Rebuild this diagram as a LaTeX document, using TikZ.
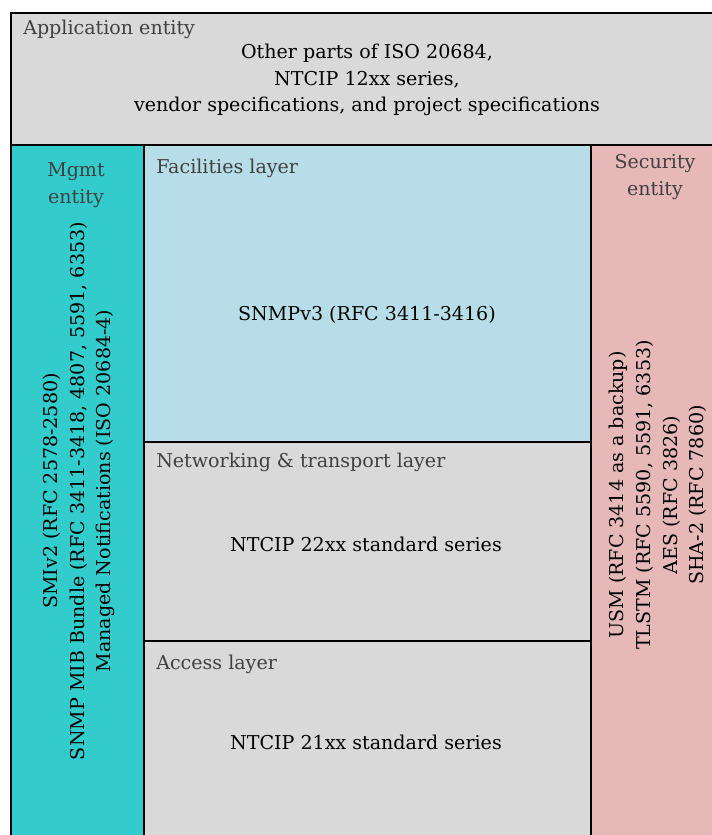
\documentclass[tikz,border=0pt]{standalone}
\usepackage{fontspec}
\setmainfont{DejaVu Serif}
\usetikzlibrary{positioning}
\definecolor{appgray}{HTML}{D9D9D9}
\definecolor{mgmtteal}{HTML}{33CCCC}
\definecolor{facblue}{HTML}{B7DEE8}
\definecolor{secpink}{HTML}{E6B9B8}
\definecolor{titlegray}{HTML}{404040}
\begin{document}
\begin{tikzpicture}[x=0.75pt,y=-0.75pt]
            \tikzset{line/.style={line width=1.5pt}};
            \tikzset{title/.style={text=titlegray,font=\fontsize{14.3}{20}\selectfont,inner sep=0pt}};
            \tikzset{body/.style={text=black,font=\fontsize{14.3}{20}\selectfont,inner sep=0pt,align=center}};

            \useasboundingbox (0,0) rectangle (712,835);
            \clip (0,0) rectangle (712,835);

            % entity and layer boxes
            \filldraw[line,fill=appgray] (11,13) rectangle (730,145);
            \filldraw[line,fill=mgmtteal] (11,145) rectangle (144,850);
            \filldraw[line,fill=facblue] (144,145) rectangle (591,442);
            \filldraw[line,fill=appgray] (144,442) rectangle (591,641);
            \filldraw[line,fill=appgray] (144,641) rectangle (591,850);
            \filldraw[line,fill=secpink] (591,145) rectangle (730,850);

            % application entity
            \node[title,anchor=west] (apptitle) at (23,29) {Application entity};
            \node[body] (apptext) at (367,80) {Other parts of ISO 20684,\\NTCIP 12xx series,\\vendor specifications, and project specifications};

            % management entity
            \node[title,align=center] (mgmttitle) at (76,185) {Mgmt\\entity};
            \node[body,rotate=90] (mgmttext) at (79,491) {SMIv2 (RFC 2578-2580)\\SNMP MIB Bundle (RFC 3411-3418, 4807, 5591, 6353)\\Managed Notifications (ISO 20684-4)};

            % layers
            \node[title,anchor=west] (factitle) at (156,168) {Facilities layer};
            \node[body] (factext) at (367,315) {SNMPv3 (RFC 3411-3416)};
            \node[title,anchor=west] (nettitle) at (156,462) {Networking \& transport layer};
            \node[body] (nettext) at (366,544) {NTCIP 22xx standard series};
            \node[title,anchor=west] (acctitle) at (156,664) {Access layer};
            \node[body] (acctext) at (366,742) {NTCIP 21xx standard series};

            % security entity
            \node[title,align=center] (sectitle) at (655,177) {Security\\entity};
            \node[body,rotate=90] (sectext) at (658,495) {USM (RFC 3414 as a backup)\\TLSTM (RFC 5590, 5591, 6353)\\AES (RFC 3826)\\SHA-2 (RFC 7860)};
\end{tikzpicture}
\end{document}
